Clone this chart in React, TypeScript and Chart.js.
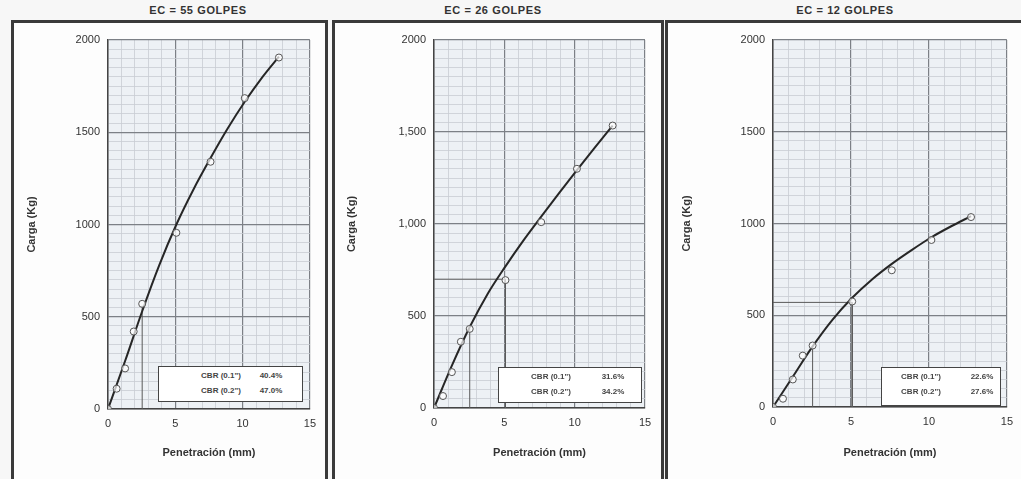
import React, { useEffect, useRef } from "react";
import { Chart, registerables } from "chart.js";
Chart.register(...registerables);

// ---------- data ----------
const penetration = [0, 0.64, 1.27, 1.91, 2.54, 5.08, 7.62, 10.16, 12.7];
const curveX = [0, 1.27, 2.54, 3.81, 5.08, 6.35, 7.62, 8.89, 10.16, 11.43, 12.7];

const load55 = [0, 110, 220, 420, 570, 955, 1340, 1685, 1905];
const curve55 = [0, 260, 530, 780, 1000, 1190, 1360, 1520, 1665, 1795, 1910];
const refX55 = [2.54, 2.54];
const refY55 = [0, 560];

const load26 = [0, 65, 195, 360, 430, 695, 1010, 1300, 1535];
const curve26 = [0, 230, 440, 620, 770, 910, 1040, 1168, 1293, 1415, 1535];
const refX26a = [0, 5.08, 5.08];
const refY26a = [700, 700, 0];
const refX26b = [2.54, 2.54];
const refY26b = [0, 430];

const load12 = [0, 45, 150, 280, 335, 575, 745, 910, 1035];
const curve12 = [0, 165, 330, 475, 595, 695, 780, 855, 925, 985, 1040];
const refX12a = [0, 5.08, 5.08];
const refY12a = [570, 570, 0];
const refX12b = [2.54, 2.54];
const refY12b = [0, 335];

const xTickLabels = ["0", "5", "10", "15"];
const yTickLabelsA = ["0", "500", "1000", "1500", "2000"];
const yTickLabelsB = ["0", "500", "1,000", "1,500", "2000"];

const cbrLabels = ['CBR (0.1")', 'CBR (0.2")'];
const cbr55 = ["40.4%", "47.0%"];
const cbr26 = ["31.6%", "34.2%"];
const cbr12 = ["22.6%", "27.6%"];

const FONT = "'Liberation Sans', Arial, sans-serif";

const bgPlugin = {
  id: "plotBg",
  beforeDraw(chart: any) {
    const { ctx, chartArea } = chart;
    ctx.save();
    ctx.fillStyle = "#edf1f5";
    ctx.fillRect(chartArea.left, chartArea.top, chartArea.right - chartArea.left, chartArea.bottom - chartArea.top);
    ctx.restore();
  },
};

const toXY = (xs: number[], ys: number[]) => xs.map((x, i) => ({ x, y: ys[i] }));

type Props = {
  canvas: { left: number; top: number; width: number; height: number };
  padding: { left: number; right: number; top: number; bottom: number };
  yWidth: number;
  xHeight: number;
  points: number[];
  curve: number[];
  refs: { xs: number[]; ys: number[] }[];
  yLabels: string[];
};

function CbrChart(p: Props) {
  const ref = useRef<HTMLCanvasElement>(null);
  useEffect(() => {
    if (!ref.current) return;
    const major = "#7c8086";
    const minor = "#c8cdd3";
    const datasets: any[] = [
      {
        data: toXY(penetration, p.points),
        showLine: false,
        pointRadius: 3.5,
        pointBackgroundColor: "rgba(255,255,255,0.7)",
        pointBorderColor: "#555",
        pointBorderWidth: 1,
      },
      {
        data: toXY(curveX, p.curve),
        showLine: true,
        pointRadius: 0,
        borderColor: "#262626",
        borderWidth: 2,
        cubicInterpolationMode: "monotone",
      },
      ...p.refs.map((r) => ({
        data: toXY(r.xs, r.ys),
        showLine: true,
        pointRadius: 0,
        borderColor: "#5a5a5a",
        borderWidth: 1,
      })),
    ];
    const chart = new Chart(ref.current, {
      type: "scatter",
      data: { datasets },
      plugins: [bgPlugin],
      options: {
        animation: false,
        responsive: false,
        layout: { padding: p.padding },
        plugins: { legend: { display: false }, tooltip: { enabled: false } },
        scales: {
          x: {
            type: "linear",
            min: 0,
            max: 15,
            afterFit: (s: any) => {
              s.height = p.xHeight;
            },
            ticks: {
              stepSize: 1,
              autoSkip: false,
              maxRotation: 0,
              padding: 8,
              color: "#333",
              font: { family: FONT, size: 11 },
              callback: (v: any) => (Number(v) % 5 === 0 ? xTickLabels[Number(v) / 5] : ""),
            },
            grid: {
              drawTicks: false,
              color: (c: any) => (c.tick && c.tick.value % 5 === 0 ? major : minor),
              lineWidth: (c: any) => (c.tick && c.tick.value % 5 === 0 ? 1.2 : 0.8),
            },
            border: { color: "#444", width: 1.5 },
            title: {
              display: true,
              text: "Penetración (mm)",
              color: "#333",
              font: { family: FONT, size: 11, weight: "bold" },
              padding: { top: 4, bottom: 4 },
            },
          },
          y: {
            type: "linear",
            min: 0,
            max: 2000,
            afterFit: (s: any) => {
              s.width = p.yWidth;
            },
            ticks: {
              stepSize: 50,
              autoSkip: false,
              padding: 8,
              color: "#333",
              font: { family: FONT, size: 11 },
              callback: (v: any) => (Number(v) % 500 === 0 ? p.yLabels[Number(v) / 500] : ""),
            },
            grid: {
              drawTicks: false,
              color: (c: any) => (c.tick && c.tick.value % 500 === 0 ? major : minor),
              lineWidth: (c: any) => (c.tick && c.tick.value % 500 === 0 ? 1.2 : 0.8),
            },
            border: { color: "#444", width: 1.5 },
            title: {
              display: true,
              text: "Carga (Kg)",
              color: "#333",
              font: { family: FONT, size: 11, weight: "bold" },
              padding: { top: 4, bottom: 4 },
            },
          },
        },
      } as any,
    });
    return () => chart.destroy();
  }, []);
  return (
    <canvas
      ref={ref}
      width={p.canvas.width}
      height={p.canvas.height}
      style={{ position: "absolute", left: p.canvas.left, top: p.canvas.top, width: p.canvas.width, height: p.canvas.height }}
    />
  );
}

function Title({ text, cx }: { text: string; cx: number }) {
  return (
    <div
      style={{
        position: "absolute",
        left: cx - 100,
        width: 200,
        top: 4,
        textAlign: "center",
        fontFamily: FONT,
        fontWeight: "bold",
        fontSize: 11,
        letterSpacing: 0.6,
        color: "#333",
      }}
    >
      {text}
    </div>
  );
}

function CbrBox({ left, top, width, height, values, labelCx, valueCx }: any) {
  const row = (i: number) => (
    <div key={i} style={{ position: "relative", height: 15 }}>
      <span style={{ position: "absolute", left: labelCx - 40, width: 80, textAlign: "center" }}>{cbrLabels[i]}</span>
      <span style={{ position: "absolute", left: valueCx - 25, width: 50, textAlign: "center" }}>{values[i]}</span>
    </div>
  );
  return (
    <div
      style={{
        position: "absolute",
        left,
        top,
        width,
        height,
        boxSizing: "border-box",
        border: "1.5px solid #444",
        background: "#ffffff",
        fontFamily: FONT,
        fontWeight: "bold",
        fontSize: 8,
        color: "#444",
        paddingTop: 4,
      }}
    >
      {row(0)}
      {row(1)}
    </div>
  );
}

function Panel({ left, width }: { left: number; width: number }) {
  return (
    <div
      style={{
        position: "absolute",
        left,
        top: 20,
        width,
        height: 520,
        boxSizing: "border-box",
        border: "3px solid #3a3a3a",
        background: "#fdfdfd",
      }}
    />
  );
}

export default function App() {
  return (
    <div
      style={{
        position: "fixed",
        left: 0,
        top: 0,
        width: 1021,
        height: 479,
        overflow: "hidden",
        background: "#f7f7f7",
      }}
    >
      <Panel left={11} width={317} />
      <Panel left={332} width={332} />
      <Panel left={665} width={380} />
      <Title text="EC = 55 GOLPES" cx={198} />
      <Title text="EC = 26 GOLPES" cx={493} />
      <Title text="EC = 12 GOLPES" cx={845} />
      <CbrChart
        canvas={{ left: 14, top: 24, width: 310, height: 455 }}
        padding={{ left: 7, right: 14, top: 16, bottom: 15 }}
        yWidth={87}
        xHeight={55}
        points={load55}
        curve={curve55}
        refs={[{ xs: refX55, ys: refY55 }]}
        yLabels={yTickLabelsA}
      />
      <CbrChart
        canvas={{ left: 336, top: 24, width: 324, height: 455 }}
        padding={{ left: 5, right: 15, top: 16, bottom: 15 }}
        yWidth={93}
        xHeight={56}
        points={load26}
        curve={curve26}
        refs={[
          { xs: refX26a, ys: refY26a },
          { xs: refX26b, ys: refY26b },
        ]}
        yLabels={yTickLabelsB}
      />
      <CbrChart
        canvas={{ left: 668, top: 24, width: 353, height: 455 }}
        padding={{ left: 8, right: 13, top: 16, bottom: 15 }}
        yWidth={97}
        xHeight={57}
        points={load12}
        curve={curve12}
        refs={[
          { xs: refX12a, ys: refY12a },
          { xs: refX12b, ys: refY12b },
        ]}
        yLabels={yTickLabelsA}
      />
      <CbrBox left={158} top={366} width={145} height={36} values={cbr55} labelCx={62} valueCx={112} />
      <CbrBox left={498} top={367} width={144} height={36} values={cbr26} labelCx={52} valueCx={114} />
      <CbrBox left={881} top={367} width={120} height={39} values={cbr12} labelCx={39} valueCx={100} />
    </div>
  );
}
